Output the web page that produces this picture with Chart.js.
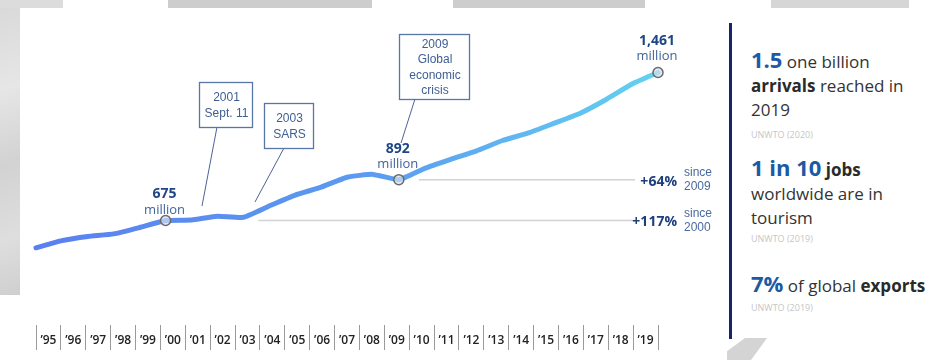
<!DOCTYPE html>
<html>
<head>
<meta charset="utf-8">
<script src="https://cdn.jsdelivr.net/npm/chart.js@4"></script>
<style>
  html, body { margin: 0; padding: 0; background: #fff; }
  #wrap { position: relative; width: 938px; height: 360px; overflow: hidden; font-family: "Open Sans", sans-serif; }
  canvas { position: absolute; left: 0; top: 0; }
  .deco { position: absolute; background: #d4d4d4; }
  .rule { position: absolute; left: 729px; top: 23px; width: 3px; height: 316px; background: #16256b; }
  .blk { position: absolute; left: 751px; white-space: nowrap; font-size: 17px; line-height: 24px; color: #333; }
  .big { font-size: 22px; font-weight: 700; color: #1c5aa6; }
  .blk b { font-weight: 700; color: #2a2a2a; }
  .src { position: absolute; left: 751px; font-size: 9px; line-height: 12px; color: #c6c6c6; }
</style>
</head>
<body>
<div id="wrap">
  <div class="deco" style="left:0;top:0;width:20px;height:295px;background:linear-gradient(160deg,#d8d8d8 0%,#e6e6e6 30%,#d2d2d2 55%,#dedede 80%,#cfcfcf 100%);"></div>
  <div class="deco" style="left:0;top:0;width:63px;height:8px;background:#dcdcdc;"></div>
  <div class="deco" style="left:168px;top:0;width:204px;height:8px;background:#cdcdcd;"></div>
  <div class="deco" style="left:453px;top:0;width:192px;height:8px;background:#cdcdcd;"></div>
  <div class="deco" style="left:771px;top:0;width:138px;height:8px;background:#d6d6d6;"></div>
  <div class="deco" style="left:727px;top:338px;width:40px;height:22px;background:#d4d4d4;clip-path:polygon(45% 0,100% 0,60% 100%,0 100%,0 60%);"></div>
  <canvas id="tourismChart" width="720" height="360"></canvas>
  <div class="rule"></div>
  <div class="blk" style="top:47px;"><span class="big">1.5</span> one billion<br><b>arrivals</b> reached in<br>2019</div>
  <div class="src" style="top:129px;">UNWTO (2020)</div>
  <div class="blk" style="top:155px;"><span class="big">1 in 10</span> <b>jobs</b><br>worldwide are in<br>tourism</div>
  <div class="src" style="top:233px;">UNWTO (2019)</div>
  <div class="blk" style="top:271px;"><span class="big">7%</span> of global <b>exports</b></div>
  <div class="src" style="top:302px;">UNWTO (2019)</div>
</div>
<script>
// international tourist arrivals (million)
var years = ['’95', '’96', '’97', '’98', '’99', '’00', '’01', '’02', '’03', '’04', '’05', '’06', '’07',
             '’08', '’09', '’10', '’11', '’12', '’13', '’14', '’15', '’16', '’17', '’18', '’19'];
var arrivals = [530, 568, 590, 604, 638, 675, 678, 698, 692, 752, 810, 852, 905,
                920, 892, 952, 1000, 1045, 1100, 1140, 1192, 1245, 1318, 1400, 1461];
var markIdx = [5, 14, 24];          // 2000, 2009, 2019
var growthPct = ['+64%', '+117%'];
var growthSince = ['2009', '2000'];
var growthIdx = [14, 5];
var callouts = [['2001', 'Sept. 11'], ['2003', 'SARS'], ['2009', 'Global', 'economic', 'crisis']];

var overlay = {
    id: 'overlay',
    afterDatasetsDraw: function (chart) {
        var c = chart.ctx, y = chart.scales.y, x = chart.scales.x, area = chart.chartArea;
        var meta = chart.getDatasetMeta(0);
        c.save();

        // growth reference lines
        var starts = [x.getPixelForValue(14) + 20, x.getPixelForValue(8) + 15];
        growthIdx.forEach(function (idx, i) {
            var py = y.getPixelForValue(arrivals[idx]);
            c.strokeStyle = '#d2d2d2';
            c.lineWidth = 1.5;
            c.beginPath();
            c.moveTo(starts[i], py);
            c.lineTo(area.right - 23, py);
            c.stroke();
            c.textBaseline = 'middle';
            c.textAlign = 'right';
            c.fillStyle = '#1e3f7e';
            c.font = '700 14px "Open Sans"';
            c.fillText(growthPct[i], area.right + 19, py + 2);
            c.textAlign = 'left';
            c.fillStyle = '#4a69a0';
            c.font = '12px "Liberation Sans"';
            c.fillText('since', area.right + 26, py - 7);
            c.fillText(growthSince[i], area.right + 26, py + 7);
        });

        // value labels above marked points
        var lift = [26, 31, 32];
        markIdx.forEach(function (idx, i) {
            var p = meta.data[idx];
            c.textAlign = 'center';
            c.textBaseline = 'middle';
            c.fillStyle = '#1e4585';
            c.font = '700 14px "Open Sans"';
            c.fillText(arrivals[idx].toLocaleString('en-US'), p.x - 1, p.y - lift[i]);
            c.fillStyle = '#41649b';
            c.font = '13px "Open Sans"';
            c.fillText('million', p.x - 1, p.y - lift[i] + 16);
        });
        c.restore();
    },
    afterDraw: function (chart) {
        var c = chart.ctx;
        var boxes = [
            { x: 199, y: 82, w: 53, h: 45, lead: [217, 127, 202, 206] },
            { x: 264, y: 103, w: 49, h: 45, lead: [284, 148, 255, 202] },
            { x: 399, y: 34, w: 70, h: 65, lead: [415, 99, 401, 143] }
        ];
        c.save();
        boxes.forEach(function (b, i) {
            c.strokeStyle = '#4c6494';
            c.lineWidth = 1;
            c.beginPath();
            c.moveTo(b.lead[0], b.lead[1]);
            c.lineTo(b.lead[2], b.lead[3]);
            c.stroke();
            c.fillStyle = '#fff';
            c.fillRect(b.x, b.y, b.w, b.h);
            c.strokeStyle = '#5876a6';
            c.lineWidth = 1.3;
            c.strokeRect(b.x + 0.5, b.y + 0.5, b.w, b.h);
            var lines = callouts[i];
            var cy = b.y + b.h / 2 - (lines.length - 1) * 15.5 / 2;
            c.fillStyle = '#3e5e93';
            c.font = '12px "Liberation Sans"';
            c.textAlign = 'center';
            c.textBaseline = 'middle';
            lines.forEach(function (t, k) {
                c.fillText(t, b.x + b.w / 2 + 1, cy + k * 15.5 + 1);
            });
        });
        c.restore();
    }
};

var ctx = document.getElementById('tourismChart').getContext('2d');
var tourismChart = new Chart(ctx, {
    type: 'line',
    data: {
        labels: years,
        datasets: [{
            label: 'Arrivals',
            data: arrivals,
            xAxisID: 'x',
            borderWidth: 5,
            borderCapStyle: 'round',
            borderJoinStyle: 'round',
            tension: 0.15,
            borderColor: function (context) {
                var area = context.chart.chartArea;
                if (!area) return '#5b8def';
                var g = context.chart.ctx.createLinearGradient(area.left, 0, area.right, 0);
                g.addColorStop(0, '#5a80ef');
                g.addColorStop(0.55, '#5b9cf0');
                g.addColorStop(1, '#63d2f0');
                return g;
            },
            pointRadius: arrivals.map(function (v, i) { return markIdx.indexOf(i) >= 0 ? 5 : 0; }),
            pointHoverRadius: 0,
            pointBackgroundColor: 'rgba(215,222,235,0.7)',
            pointBorderColor: '#6b6b6b',
            pointBorderWidth: 1.5
        }]
    },
    options: {
        responsive: false,
        animation: false,
        layout: { padding: { left: 36, right: 62, top: 20, bottom: 5 } },
        plugins: { legend: { display: false }, tooltip: { enabled: false } },
        scales: {
            x: { type: 'category', display: false, offset: false },
            xl: {
                type: 'category',
                position: 'bottom',
                offset: true,
                afterFit: function (scale) { scale.height = 30; },
                border: { display: false },
                grid: { offset: true, drawOnChartArea: false, drawTicks: true, tickLength: 25, color: '#9a9a9a', lineWidth: 1 },
                ticks: { padding: -17, autoSkip: false, maxRotation: 0, color: '#222', font: { family: 'Open Sans', size: 12, weight: '600' } }
            },
            y: { display: false, min: 120, max: 1740 }
        }
    },
    plugins: [overlay]
});
</script>
</body>
</html>
